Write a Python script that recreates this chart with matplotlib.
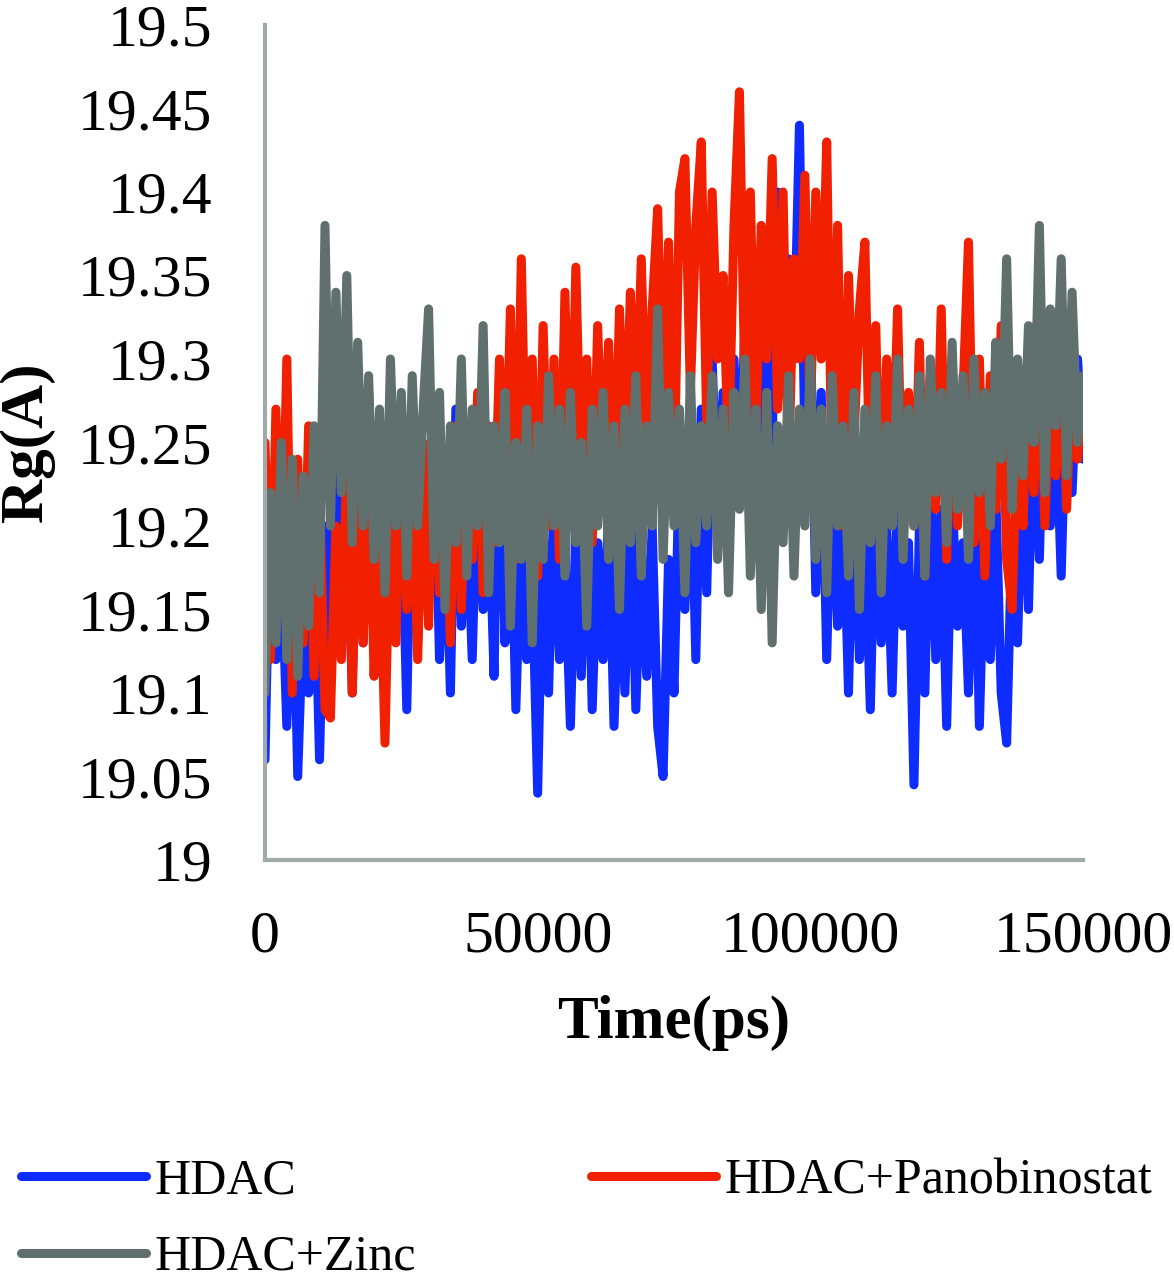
import numpy as np
import matplotlib
matplotlib.use("Agg")
import matplotlib.pyplot as plt

time_step_ps = 1000
hdac = [
    19.06, 19.22, 19.12, 19.18, 19.08, 19.2, 19.05, 19.15, 19.1, 19.19,
    19.06, 19.2, 19.12, 19.25, 19.14, 19.22, 19.1, 19.26, 19.13, 19.28,
    19.14, 19.24, 19.11, 19.27, 19.15, 19.22, 19.09, 19.25, 19.13, 19.23,
    19.16, 19.26, 19.12, 19.22, 19.1, 19.27, 19.14, 19.21, 19.12, 19.24,
    19.15, 19.22, 19.11, 19.29, 19.13, 19.23, 19.09, 19.2, 19.12, 19.17,
    19.04, 19.2, 19.1, 19.22, 19.12, 19.18, 19.08, 19.2, 19.11, 19.23,
    19.09, 19.19, 19.12, 19.21, 19.08, 19.18, 19.1, 19.22, 19.09, 19.19,
    19.11, 19.2, 19.08, 19.05, 19.18, 19.1, 19.24, 19.15, 19.26, 19.12,
    19.27, 19.16, 19.3, 19.2, 19.28, 19.18, 19.3, 19.22, 19.32, 19.2,
    19.3, 19.22, 19.34, 19.25, 19.4, 19.28, 19.36, 19.3, 19.44, 19.25,
    19.32, 19.16, 19.28, 19.12, 19.25, 19.14, 19.22, 19.1, 19.24, 19.12,
    19.2, 19.09, 19.23, 19.13, 19.2, 19.1, 19.22, 19.14, 19.19, 19.045,
    19.2, 19.1, 19.24, 19.12, 19.21, 19.08, 19.22, 19.14, 19.19, 19.1,
    19.23, 19.08, 19.2, 19.12, 19.22, 19.1, 19.07, 19.2, 19.13, 19.25,
    19.15, 19.28, 19.18, 19.3, 19.2, 19.27, 19.17, 19.29, 19.22, 19.3,
    19.24,
]
hdac_pano = [
    19.25, 19.12, 19.27, 19.15, 19.3, 19.1, 19.24, 19.13, 19.26, 19.11,
    19.22, 19.09, 19.085, 19.2, 19.12, 19.24, 19.1, 19.22, 19.13, 19.25,
    19.11, 19.2, 19.07, 19.22, 19.13, 19.26, 19.15, 19.23, 19.12, 19.25,
    19.14, 19.27, 19.16, 19.24, 19.13, 19.26, 19.15, 19.25, 19.18, 19.28,
    19.16, 19.26, 19.19, 19.3, 19.2, 19.33, 19.18, 19.36, 19.2, 19.3,
    19.17, 19.32, 19.2, 19.3, 19.18, 19.34, 19.2, 19.355, 19.22, 19.3,
    19.19, 19.32, 19.22, 19.31, 19.2, 19.33, 19.23, 19.34, 19.25, 19.36,
    19.24, 19.33, 19.39, 19.26, 19.37, 19.22, 19.4, 19.42, 19.28, 19.38,
    19.43, 19.26, 19.4, 19.3, 19.35, 19.24, 19.38, 19.46, 19.28, 19.4,
    19.25, 19.38, 19.3, 19.42, 19.27, 19.4, 19.23, 19.36, 19.3, 19.41,
    19.26, 19.4, 19.3, 19.43, 19.22, 19.38, 19.2, 19.35, 19.25, 19.33,
    19.37, 19.21, 19.32, 19.18, 19.3, 19.22, 19.33, 19.19, 19.28, 19.2,
    19.31, 19.17, 19.29, 19.21, 19.33, 19.18, 19.3, 19.2, 19.28, 19.37,
    19.19, 19.3, 19.17, 19.29, 19.21, 19.32, 19.18, 19.15, 19.26, 19.2,
    19.3, 19.22, 19.32, 19.2, 19.29, 19.23, 19.31, 19.21, 19.3, 19.24,
    19.28,
]
hdac_zinc = [
    19.1, 19.22, 19.13, 19.25, 19.12, 19.24, 19.11, 19.23, 19.14, 19.26,
    19.16, 19.38, 19.2, 19.34, 19.22, 19.35, 19.19, 19.31, 19.2, 19.29,
    19.18, 19.27, 19.16, 19.3, 19.2, 19.28, 19.17, 19.29, 19.2, 19.27,
    19.33, 19.18, 19.28, 19.15, 19.26, 19.19, 19.3, 19.17, 19.27, 19.2,
    19.32, 19.16, 19.26, 19.19, 19.28, 19.14, 19.25, 19.18, 19.27, 19.13,
    19.26, 19.18, 19.29, 19.2, 19.27, 19.17, 19.28, 19.19, 19.25, 19.14,
    19.27, 19.2, 19.28, 19.18, 19.26, 19.15, 19.27, 19.19, 19.29, 19.17,
    19.26, 19.2, 19.33, 19.18, 19.28, 19.2, 19.27, 19.16, 19.29, 19.19,
    19.26, 19.2, 19.29, 19.18, 19.27, 19.16, 19.28, 19.21, 19.3, 19.17,
    19.27, 19.15, 19.28, 19.13, 19.26, 19.19, 19.29, 19.17, 19.27, 19.2,
    19.3, 19.18, 19.27, 19.16, 19.29, 19.2, 19.26, 19.17, 19.28, 19.15,
    19.27, 19.19, 19.29, 19.16, 19.26, 19.2, 19.3, 19.18, 19.27, 19.2,
    19.29, 19.17, 19.3, 19.22, 19.28, 19.19, 19.31, 19.21, 19.29, 19.18,
    19.3, 19.22, 19.28, 19.2, 19.31, 19.24, 19.36, 19.21, 19.3, 19.23,
    19.32, 19.25, 19.38, 19.22, 19.33, 19.26, 19.36, 19.23, 19.34, 19.25,
    19.29,
]
labels = ["HDAC", "HDAC+Panobinostat", "HDAC+Zinc"]
colors = ["#0f2cff", "#f02000", "#5f706e"]
y_ticks = [19, 19.05, 19.1, 19.15, 19.2, 19.25, 19.3, 19.35, 19.4, 19.45, 19.5]
y_tick_labels = ["19", "19.05", "19.1", "19.15", "19.2", "19.25", "19.3", "19.35", "19.4", "19.45", "19.5"]
x_ticks = [0, 50000, 100000, 150000]

plt.rcParams["font.family"] = ["Liberation Serif", "DejaVu Serif"]

fig = plt.figure(figsize=(11.74, 12.87), dpi=100)
ax = fig.add_axes([265/1174, 1-860/1287, (1083-265)/1174, (860-25)/1287])

t = np.arange(len(hdac)) * time_step_ps
lines = []
for series, lab, col in zip([hdac, hdac_pano, hdac_zinc], labels, colors):
    ln, = ax.plot(t, series, color=col, lw=6.5, label=lab,
                  solid_capstyle="round", solid_joinstyle="round")
    lines.append(ln)

ax.set_xlim(0, 150000)
ax.set_ylim(19, 19.5)
ax.set_yticks(y_ticks)
ax.set_yticklabels(y_tick_labels)
ax.set_xticks(x_ticks)
ax.tick_params(axis="both", length=0, labelsize=43)
ax.tick_params(axis="y", pad=38)
ax.tick_params(axis="x", pad=36)
for s in ["top", "right"]:
    ax.spines[s].set_visible(False)
for s in ["left", "bottom"]:
    ax.spines[s].set_color("#a0aaa8")
    ax.spines[s].set_linewidth(3)
ax.set_ylabel("Rg(A)", fontsize=44, fontweight="bold", labelpad=16)
ax.set_xlabel("Time(ps)", fontsize=44, fontweight="bold", labelpad=22)

order = [0, 2, 1]
fig.legend([lines[i] for i in order], [labels[i] for i in order],
           ncol=2, loc="upper left", bbox_to_anchor=(6/1174, 1-1143/1287),
           frameon=False, fontsize=36, handlelength=2.5, handletextpad=0.17,
           columnspacing=3.5, labelspacing=0.6, borderaxespad=0, borderpad=0.3)

fig.savefig("out.png", dpi=100)
